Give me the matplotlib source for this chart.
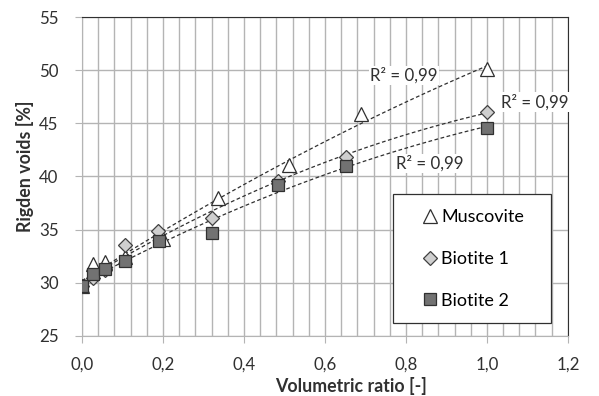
import numpy as np
import matplotlib.pyplot as plt
from matplotlib.patches import Rectangle

# data
x_musc = [0.0, 0.028, 0.057, 0.106, 0.20, 0.337, 0.512, 0.69, 1.0]
y_musc = [29.7, 31.8, 31.9, 32.4, 34.1, 38.0, 41.1, 45.9, 50.1]

x_bio1 = [0.0, 0.028, 0.057, 0.106, 0.187, 0.32, 0.485, 0.652, 1.0]
y_bio1 = [29.7, 30.4, 31.2, 33.5, 34.9, 36.1, 39.6, 41.8, 46.1]

x_bio2 = [0.0, 0.028, 0.057, 0.106, 0.19, 0.32, 0.485, 0.652, 1.0]
y_bio2 = [29.7, 30.8, 31.3, 32.0, 33.9, 34.7, 39.2, 41.0, 44.6]

r2_label = 'R² = 0,99'

plt.rcParams['font.family'] = ['Lato', 'DejaVu Sans']
grid_col = '#b4b4b4'
ink = '#303030'

fig = plt.figure(figsize=(5.99, 3.96), dpi=100)
ax = fig.add_axes([0.137, 0.152, 0.811, 0.805])

# polynomial trendlines (dashed)
xx = np.linspace(0, 1, 100)
for xs, ys in [(x_musc, y_musc), (x_bio1, y_bio1), (x_bio2, y_bio2)]:
    p = np.polyfit(xs, ys, 2)
    ax.plot(xx, np.polyval(p, xx), color=ink, linestyle=(0, (3, 2)), lw=0.9, zorder=3)

ax.plot(x_musc, y_musc, linestyle='none', marker='^', ms=9.5, mfc='white', mec=ink,
        mew=0.9, label='Muscovite', zorder=4)
ax.plot(x_bio1, y_bio1, linestyle='none', marker='D', ms=7, mfc='#cfcfcf', mec='#404040',
        mew=0.9, label='Biotite 1', zorder=5)
ax.plot(x_bio2, y_bio2, linestyle='none', marker='s', ms=8.5, mfc='#727272', mec=ink,
        mew=0.9, label='Biotite 2', zorder=6)

txt_box = dict(facecolor='white', edgecolor='none', pad=1)
ax.text(0.795, 49.5, r2_label, fontsize=12.2, color=ink, ha='center', va='center', bbox=txt_box, zorder=7)
ax.text(1.118, 47.0, r2_label, fontsize=12.2, color=ink, ha='center', va='center', bbox=txt_box, zorder=7)
ax.text(0.859, 41.2, r2_label, fontsize=12.2, color=ink, ha='center', va='center', bbox=txt_box, zorder=7)

ax.set_xlim(0, 1.2)
ax.set_ylim(25, 55)
ax.set_xticks(np.arange(0, 1.21, 0.2))
ax.set_xticks(np.arange(0, 1.21, 0.04), minor=True)
ax.set_yticks(np.arange(25, 56, 5))
ax.set_xticklabels([f'{v:.1f}'.replace('.', ',') for v in np.arange(0, 1.21, 0.2)])
ax.tick_params(axis='both', which='major', labelsize=12.2, color=grid_col, length=5,
               labelcolor=ink)
ax.tick_params(axis='x', which='major', pad=10)
ax.tick_params(axis='y', which='major', pad=12)
ax.tick_params(axis='x', which='minor', length=0)
ax.grid(True, which='major', axis='y', color=grid_col, lw=1)
ax.grid(True, which='both', axis='x', color=grid_col, lw=1)
ax.set_axisbelow(True)

for s in ['left', 'bottom']:
    ax.spines[s].set_color(grid_col)
for s in ['top', 'right']:
    ax.spines[s].set_color(ink)

ax.set_xlabel('Volumetric ratio [-]', fontsize=12.8, fontweight='bold', color=ink)
ax.set_ylabel('Rigden voids [%]', fontsize=12.8, fontweight='bold', color=ink)
ax.xaxis.set_label_coords(0.553, -0.157)
ax.yaxis.set_label_coords(-0.117, 0.533)
ax.xaxis.label.set_va('center')
ax.yaxis.label.set_va('center')

# legend box
ax.add_patch(Rectangle((0.640, 0.041), 0.325, 0.404, transform=ax.transAxes,
                       facecolor='white', edgecolor=ink, lw=0.9, zorder=8))
leg = ax.legend(loc='center left', bbox_to_anchor=(0.698, 0.241), fontsize=13, frameon=False,
                labelspacing=1.42, handletextpad=0.1, borderpad=0, borderaxespad=0,
                handlelength=1.0, markerscale=1.0)
leg.set_zorder(9)

fig.savefig('out.png', dpi=100)
